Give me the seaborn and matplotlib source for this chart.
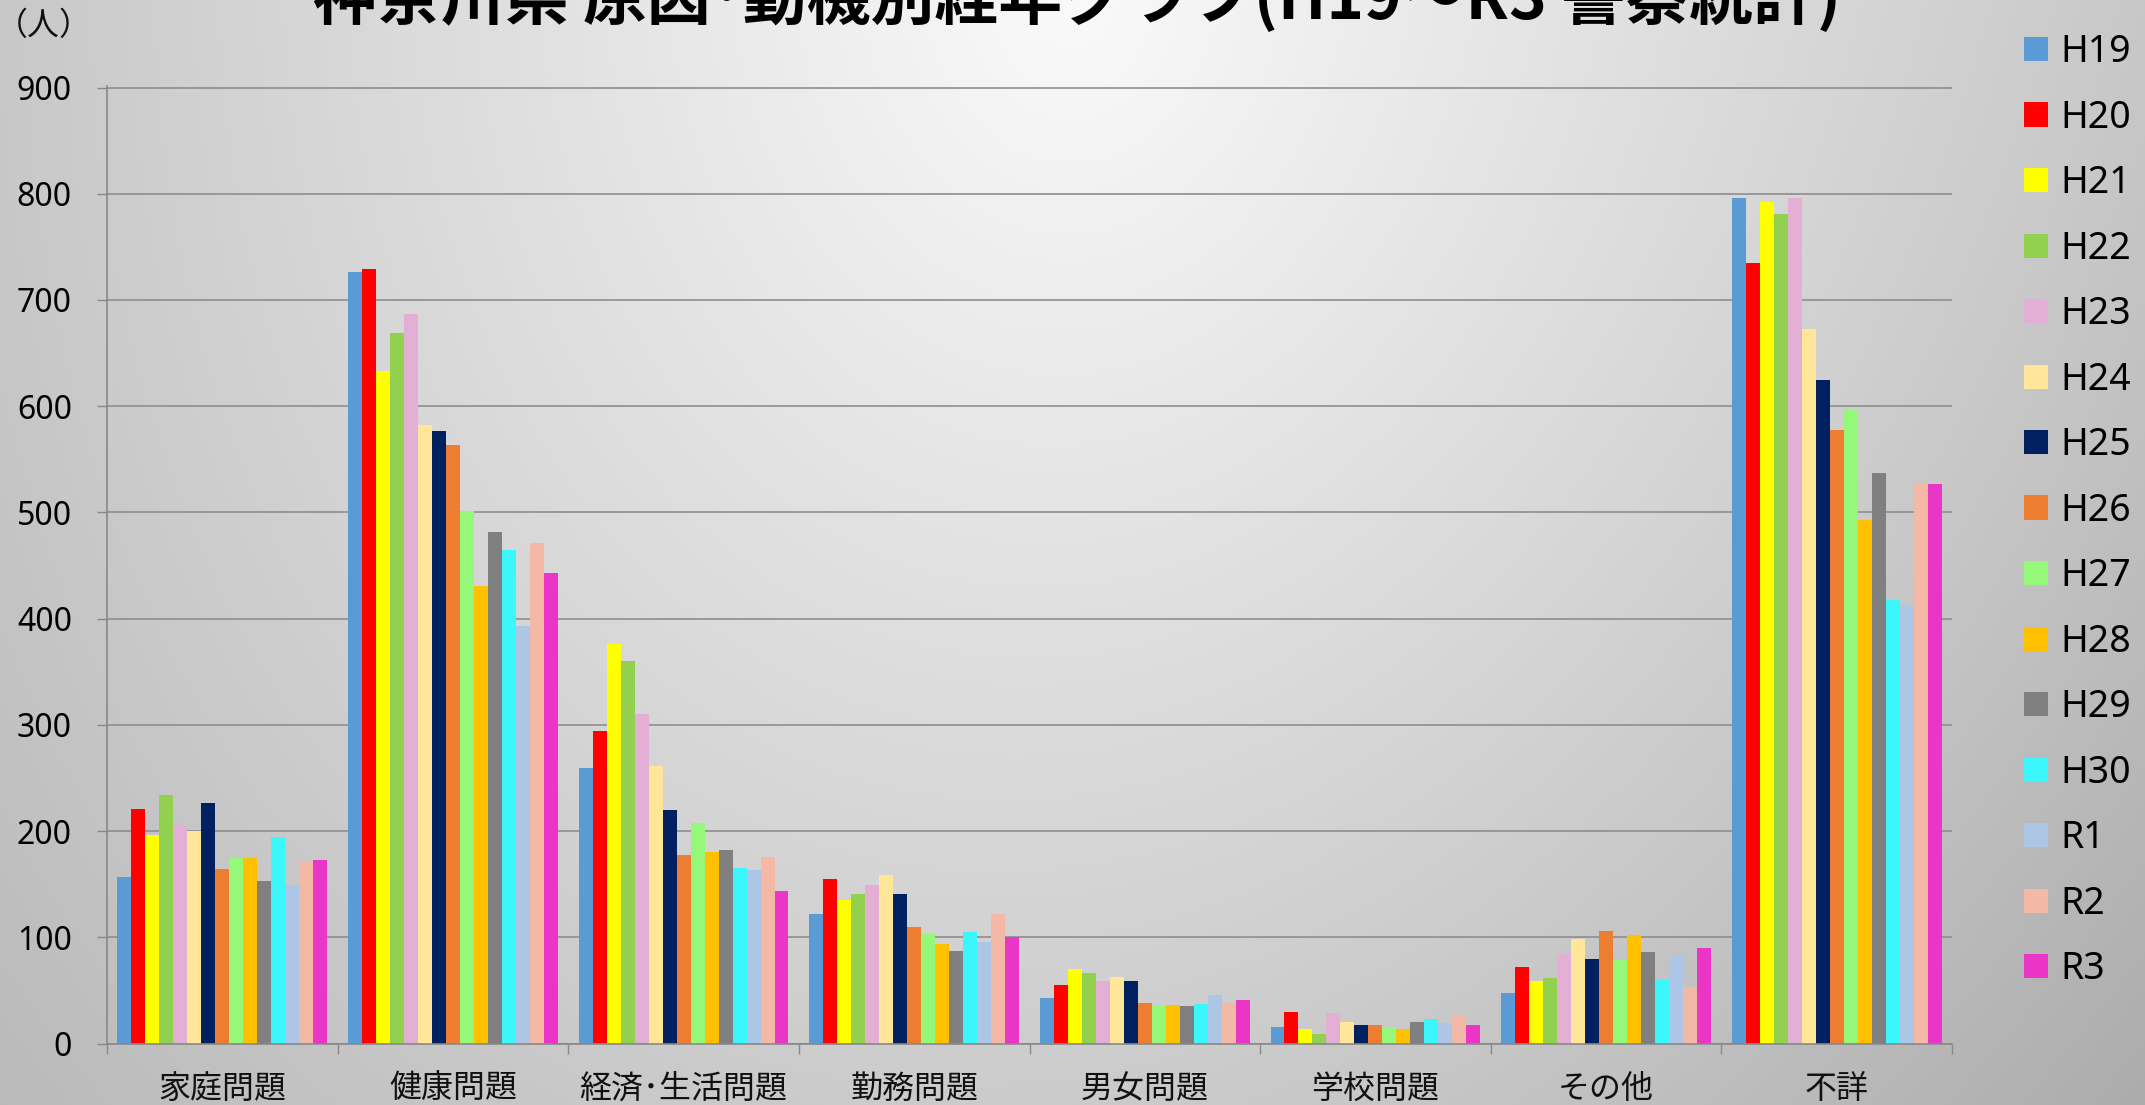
import numpy as np
import pandas as pd
import matplotlib
matplotlib.use("Agg")
import matplotlib.pyplot as plt
from matplotlib.patches import Rectangle
import seaborn as sns

# ---------------- data ----------------
years = ["H19", "H20", "H21", "H22", "H23", "H24", "H25", "H26",
         "H27", "H28", "H29", "H30", "R1", "R2", "R3"]
categories = ["家庭問題", "健康問題", "経済･生活問題", "勤務問題",
              "男女問題", "学校問題", "その他", "不詳"]

katei  = [157, 221, 196, 234, 206, 200, 226, 164, 175, 175, 153, 194, 149, 171, 173]
kenko  = [726, 729, 633, 669, 687, 582, 577, 563, 501, 431, 482, 465, 393, 471, 443]
keizai = [259, 294, 376, 360, 310, 261, 220, 177, 208, 180, 182, 165, 163, 176, 144]
kinmu  = [122, 155, 135, 141, 149, 159, 141, 110, 103, 94, 87, 105, 96, 122, 100]
danjo  = [43, 55, 70, 66, 59, 63, 59, 38, 35, 36, 35, 37, 46, 38, 41]
gakko  = [16, 30, 14, 9, 29, 20, 17, 17, 16, 14, 20, 23, 19, 26, 17]
sonota = [48, 72, 59, 62, 84, 98, 80, 106, 79, 102, 86, 60, 83, 53, 90]
fusho  = [796, 735, 792, 781, 796, 673, 625, 578, 597, 493, 537, 418, 413, 528, 527]

colors = ["#5B9BD5", "#FF0000", "#FFFF00", "#92D050", "#E4AFD5", "#FFE699",
          "#002060", "#ED7D31", "#96F878", "#FFC000", "#808080", "#3BF6FA",
          "#ADC6E6", "#F4B8A6", "#EA35C6"]

title = "神奈川県 原因･動機別経年グラフ(H19～R3 警察統計)"
unit_label = "（人）"

series_by_cat = [katei, kenko, keizai, kinmu, danjo, gakko, sonota, fusho]
rows = []
for cat, vals in zip(categories, series_by_cat):
    for yr, v in zip(years, vals):
        rows.append({"category": cat, "year": yr, "value": v})
df = pd.DataFrame(rows)

# ---------------- figure ----------------
W, H = 2145, 1105
fig = plt.figure(figsize=(W / 100, H / 100), dpi=100)

# gradient background
bg = fig.add_axes([0, 0, 1, 1], zorder=-10)
bg.axis("off")
ny, nx = 277, 537
yy, xx = np.mgrid[0:1:ny * 1j, 0:1:nx * 1j]
d = np.sqrt(((xx - 0.5) / 0.6) ** 2 + (yy / 1.5) ** 2)
v = 250 - 60 * d - 14 * xx * yy
v = np.clip(v, 150, 250) / 255.0
img = np.dstack([v, v, v])
bg.imshow(img, extent=[0, 1, 0, 1], aspect="auto", origin="upper",
          interpolation="bilinear")
bg.set_xlim(0, 1)
bg.set_ylim(0, 1)

px_per_unit = 1.0622
ymax = 901
ax = fig.add_axes([107 / W, 1 - 1043.5 / H, 1845 / W, ymax * px_per_unit / H])
ax.set_facecolor("none")

sns.barplot(data=df, x="category", y="value", hue="year",
            order=categories, hue_order=years, palette=colors,
            width=0.91, gap=0, saturation=1, linewidth=0,
            errorbar=None, legend=False, ax=ax)

ax.set_xlim(-0.5, 7.5)
ax.set_ylim(0, ymax)
ax.set_yticks(range(0, 1000, 100))
ax.set_xlabel("")
ax.set_ylabel("")

for s in ["top", "right"]:
    ax.spines[s].set_visible(False)
for s in ["left", "bottom"]:
    ax.spines[s].set_color("#888888")
    ax.spines[s].set_linewidth(1.2)

ax.grid(axis="y", color="#8E8E8E", linewidth=1.2)
ax.grid(axis="x", visible=False)
ax.set_axisbelow(True)

ax.tick_params(axis="y", length=7.2, width=1, color="#888888", pad=18,
               labelsize=23, labelcolor="black")
for lab in ax.get_yticklabels():
    lab.set_fontfamily("Noto Sans")

ax.set_xticks(range(len(categories)))
ax.set_xticklabels(categories, fontfamily=["Noto Sans CJK JP", "DejaVu Sans"],
                   fontsize=23, color="#111111")
ax.tick_params(axis="x", which="major", length=0, pad=21)
ax.set_xticks(np.arange(-0.5, len(categories), 1), minor=True)
ax.tick_params(axis="x", which="minor", length=7.2, width=1, color="#888888")

# title (partially cut at top as in the reference)
fig.text(1077 / W, 1 - 19 / H, title, ha="center", va="baseline",
         fontsize=46, fontweight="bold",
         family=["Noto Sans CJK JP", "DejaVu Sans"], color="black")

# unit label
fig.text(-4 / W, 1 - 35 / H, unit_label, ha="left", va="baseline",
         fontsize=23, family=["Noto Sans CJK JP", "DejaVu Sans"], color="#111111")

# legend (manual)
fs_leg = 27
cap = 0.714 * fs_leg * 100 / 72
for i, (yr, c) in enumerate(zip(years, colors)):
    cy = 49 + 65.5 * i
    fig.add_artist(Rectangle((2024 / W, 1 - (cy + 12) / H), 24 / W, 24 / H,
                             transform=fig.transFigure, facecolor=c,
                             edgecolor="none"))
    fig.text(2060 / W, 1 - (cy + cap / 2) / H, yr, ha="left", va="baseline",
             fontsize=fs_leg, family="Noto Sans", color="black")

fig.savefig("out.png", dpi=100)
